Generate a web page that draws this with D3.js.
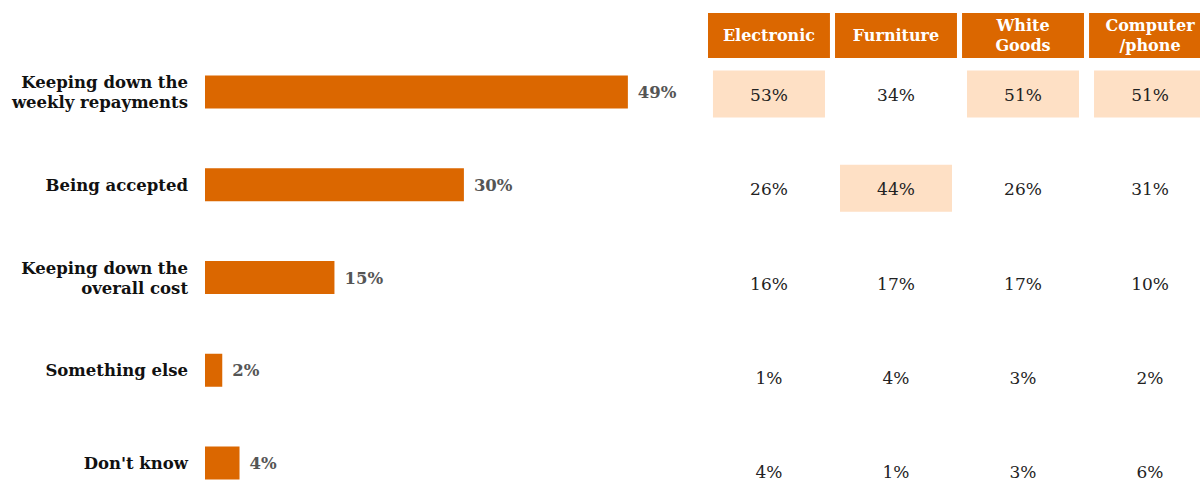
<!DOCTYPE html>
<html>
<head>
<meta charset="utf-8">
<script src="https://cdn.jsdelivr.net/npm/d3@7"></script>
<style>
  html, body { margin: 0; padding: 0; background: #fff; }
  svg { display: block; }
</style>
</head>
<body>
<svg id="chart" width="1200" height="483"></svg>
<script>
// Reasons given for choosing a finance option — overall share and by purchase type
const categories = [
  ["Keeping down the", "weekly repayments"],
  ["Being accepted"],
  ["Keeping down the", "overall cost"],
  ["Something else"],
  ["Don't know"]
];
const overall = [49, 30, 15, 2, 4];

const columns = [["Electronic"], ["Furniture"], ["White", "Goods"], ["Computer", "/phone"]];
const electronic = [53, 26, 16, 1, 4];
const furniture  = [34, 44, 17, 4, 1];
const whiteGoods = [51, 26, 17, 3, 3];
const computer   = [51, 31, 10, 2, 6];
// cells shaded as the leading purchase types for a reason: [row, column]
const highlighted = [[0, 0], [1, 1], [0, 2], [0, 3]];

const tableCols = [electronic, furniture, whiteGoods, computer];

const ORANGE = "#db6700";
const SHADE = "#fee0c5";
const SERIF = "'DejaVu Serif', 'Liberation Serif', serif";

const svg = d3.select("#chart");
const rowKeys = categories.map((_, i) => i);

// bar chart scales
const x = d3.scaleLinear().domain([0, 100]).range([205, 1068]);
const yBar = d3.scalePoint().domain(rowKeys).range([92, 463]);
const barH = 33;

// table scales
const xCol = d3.scaleBand().domain(d3.range(columns.length)).range([708, 1211]).paddingInner(0.04);
const yRow = d3.scalePoint().domain(rowKeys).range([94, 471]);
const cellW = 112, cellH = 47;

// category labels
const catG = svg.append("g")
  .attr("font-family", SERIF)
  .attr("font-weight", "bold")
  .attr("font-size", 16.5)
  .attr("fill", "#111")
  .attr("text-anchor", "end");

categories.forEach((lines, i) => {
  const t = catG.append("text")
    .attr("x", 188)
    .attr("y", yBar(i) - (lines.length - 1) * 10 + 6);
  lines.forEach((ln, j) => {
    t.append("tspan").attr("x", 188).attr("dy", j === 0 ? 0 : 20).text(ln);
  });
});

// bars
svg.append("g").selectAll("rect")
  .data(overall)
  .join("rect")
  .attr("x", x(0))
  .attr("y", (d, i) => yBar(i) - barH / 2)
  .attr("width", d => x(d) - x(0))
  .attr("height", barH)
  .attr("fill", ORANGE);

// bar value labels
svg.append("g")
  .attr("font-family", SERIF)
  .attr("font-weight", "bold")
  .attr("font-size", 16.5)
  .attr("fill", "#555")
  .selectAll("text")
  .data(overall)
  .join("text")
  .attr("x", d => x(d) + 10)
  .attr("y", (d, i) => yBar(i) + 6)
  .text(d => d + "%");

// column headers
const head = svg.append("g");
head.selectAll("rect")
  .data(columns)
  .join("rect")
  .attr("x", (d, i) => xCol(i))
  .attr("y", 13)
  .attr("width", xCol.bandwidth())
  .attr("height", 45)
  .attr("fill", ORANGE);

head.selectAll("text")
  .data(columns)
  .join("text")
  .attr("font-family", SERIF)
  .attr("font-weight", "bold")
  .attr("font-size", 16)
  .attr("fill", "#fff")
  .attr("text-anchor", "middle")
  .attr("y", d => d.length === 1 ? 41 : 31)
  .each(function (lines, i) {
    const t = d3.select(this);
    lines.forEach((ln, j) => {
      t.append("tspan")
        .attr("x", xCol(i) + xCol.bandwidth() / 2)
        .attr("dy", j === 0 ? 0 : 20)
        .text(ln);
    });
  });

// highlighted cells
svg.append("g").selectAll("rect")
  .data(highlighted)
  .join("rect")
  .attr("x", d => xCol(d[1]) + xCol.bandwidth() / 2 - cellW / 2)
  .attr("y", d => yRow(d[0]) - cellH / 2)
  .attr("width", cellW)
  .attr("height", cellH)
  .attr("fill", SHADE);

// table values
const cellG = svg.append("g")
  .attr("font-family", SERIF)
  .attr("font-size", 17)
  .attr("fill", "#222")
  .attr("text-anchor", "middle");

tableCols.forEach((vals, c) => {
  cellG.selectAll(null)
    .data(vals)
    .join("text")
    .attr("x", xCol(c) + xCol.bandwidth() / 2)
    .attr("y", (d, r) => yRow(r) + 7)
    .text(d => d + "%");
});
</script>
</body>
</html>
